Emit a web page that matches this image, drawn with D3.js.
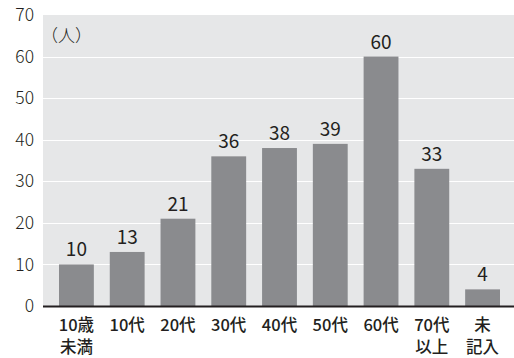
<!DOCTYPE html>
<html><head><meta charset="utf-8">
<script src="https://cdn.jsdelivr.net/npm/d3@7"></script>
<style>body{margin:0;background:#fff}svg{display:block}</style>
</head><body>
<svg id="c" width="514" height="358"></svg>
<script>
const categories = [["10歳","未満"],["10代"],["20代"],["30代"],["40代"],["50代"],["60代"],["70代","以上"],["未","記入"]];
const values = [10,13,21,36,38,39,60,33,4];
const yTicks = [0,10,20,30,40,50,60,70];
const unitLabel = "（人）";

const svg = d3.select("#c");
const font = "'Noto Sans CJK JP','Noto Sans',sans-serif";
const plotL = 43, plotR = 514, plotT = 15, plotB = 306;
const y = d3.scaleLinear().domain([0,70]).range([plotB, plotT]);
const x = d3.scaleBand().domain(d3.range(categories.length)).range([59,500]).paddingInner(16/51).paddingOuter(0);

svg.append("rect").attr("x",plotL).attr("y",plotT).attr("width",plotR-plotL).attr("height",plotB-plotT).attr("fill","#e6e7e8");

svg.append("g").selectAll("line").data(yTicks.filter(d=>d>0&&d<70)).join("line")
  .attr("x1",plotL).attr("x2",plotR).attr("y1",d=>Math.round(y(d))+0.5).attr("y2",d=>Math.round(y(d))+0.5)
  .attr("stroke","#fff").attr("stroke-width",1.2);

const yAxis = d3.axisLeft(y).tickValues(yTicks).tickSize(0).tickPadding(9);
const gy = svg.append("g").attr("transform",`translate(${plotL},0)`).call(yAxis);
gy.select(".domain").remove();
gy.selectAll("text").attr("font-family",font).attr("font-size",17.5).attr("fill","#231f20").attr("font-weight",300);

svg.append("g").selectAll("rect").data(values).join("rect")
  .attr("x",(d,i)=>x(i)).attr("width",x.bandwidth())
  .attr("y",d=>y(d)).attr("height",d=>y(0)-y(d)).attr("fill","#8a8b8e");

svg.append("g").selectAll("text").data(values).join("text")
  .attr("x",(d,i)=>x(i)+x.bandwidth()/2).attr("y",d=>y(d)-8)
  .attr("text-anchor","middle").attr("font-family",font).attr("font-size",19).attr("fill","#231f20")
  .text(d=>d);

svg.append("line").attr("x1",plotL).attr("x2",plotR).attr("y1",plotB+0.5).attr("y2",plotB+0.5)
  .attr("stroke","#231f20").attr("stroke-width",2);

const xl = svg.append("g").selectAll("text").data(categories).join("text")
  .attr("text-anchor","middle").attr("font-family",font).attr("font-size",16.5).attr("fill","#231f20")
  .attr("font-weight",500);
xl.each(function(lines,i){
  d3.select(this).selectAll("tspan").data(lines).join("tspan")
    .attr("x",x(i)+x.bandwidth()/2).attr("y",(d,j)=>331+j*22).text(d=>d);
});

svg.append("text").attr("x",41).attr("y",42).attr("font-family",font).attr("font-size",17)
  .attr("fill","#231f20").attr("font-weight",300).text(unitLabel);
</script>
</body></html>
